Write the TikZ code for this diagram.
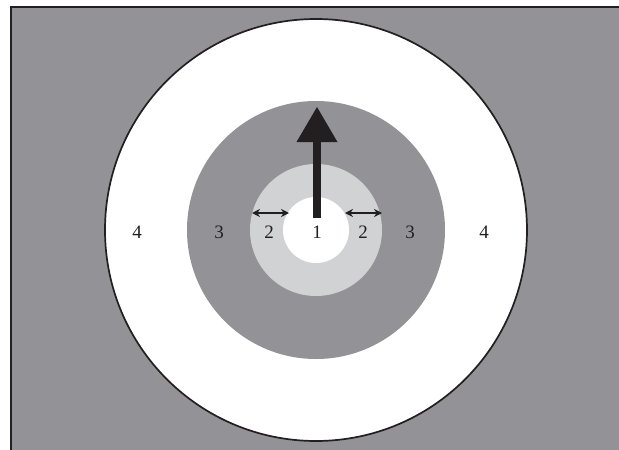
\documentclass[tikz,border=0pt]{standalone}
\usepackage{fontspec}
\setmainfont{Liberation Serif}
\usetikzlibrary{arrows.meta}
\definecolor{bg}{HTML}{939397}
\definecolor{light}{HTML}{D1D2D4}
\definecolor{ink}{HTML}{231F20}
\tikzset{
  ring/.style={circle, inner sep=0pt, outer sep=0pt},
  lab/.style={font=\fontsize{19}{19}\selectfont, text=ink, inner sep=0pt},
  dbl/.style={{Stealth[length=8pt,width=8pt]}-{Stealth[length=8pt,width=8pt]}, line width=1.4pt, draw=ink},
}
\begin{document}
\begin{tikzpicture}[x=1pt,y=-1pt]
\useasboundingbox (0,0) rectangle (619,450);
\fill[bg] (10,6) rectangle (619,450);
\draw[ink, line width=1.8pt] (10.9,450) -- (10.9,6.9) -- (619,6.9);
\node[ring, fill=white, draw=ink, line width=1.7pt, minimum size=422pt] (outer) at (316,230) {};
\node[ring, fill=bg, minimum size=258pt] (mid) at (316,230) {};
\node[ring, fill=light, minimum size=132pt] (inner) at (316,230) {};
\node[ring, fill=white, minimum size=66pt] (core) at (316,230) {};
% arrow
\coordinate (shaftbot) at (317,218);
\coordinate (tip) at (317,107);
\fill[ink] (313.3,218) rectangle (320.7,140);
\fill[ink] (tip) -- (337.5,142) -- (296.5,142) -- cycle;
% double arrows
\coordinate (la) at (252,213);
\coordinate (lb) at (289,213);
\coordinate (ra) at (345,213);
\coordinate (rb) at (382,213);
\draw[dbl] (la) -- (lb);
\draw[dbl] (ra) -- (rb);
% labels
\node[lab] (l1) at (317,232) {1};
\node[lab] (l2a) at (269,232) {2};
\node[lab] (l2b) at (363,232) {2};
\node[lab] (l3a) at (219,232) {3};
\node[lab] (l3b) at (410,232) {3};
\node[lab] (l4a) at (137,232) {4};
\node[lab] (l4b) at (484,232) {4};
\end{tikzpicture}
\end{document}
